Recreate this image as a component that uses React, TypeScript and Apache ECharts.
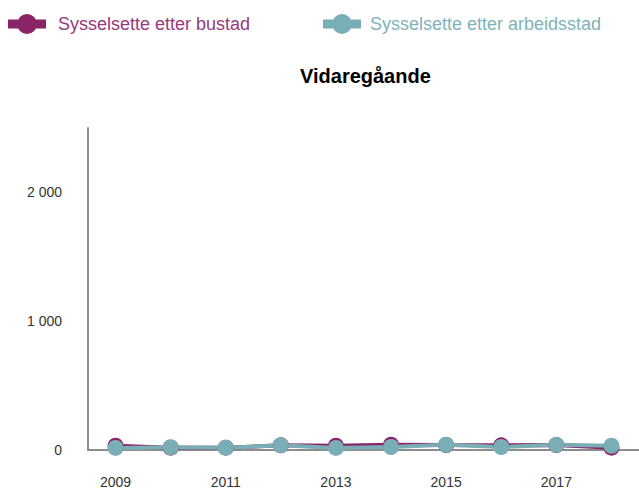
import React, { useEffect, useRef } from "react";
import * as echarts from "echarts";

const years = ["2009", "2010", "2011", "2012", "2013", "2014", "2015", "2016", "2017", "2018"];
const bustad = [33, 18, 18, 36, 33, 41, 38, 36, 38, 18];
const arbeidsstad = [16, 21, 18, 36, 16, 23, 41, 23, 41, 33];
const seriesNames = ["Sysselsette etter bustad", "Sysselsette etter arbeidsstad"];
const titleText = "Vidaregåande";

const PURPLE = "#8a2467";
const TEAL = "#7aaeb6";
const PURPLE_TEXT = "#973a7b";
const TEAL_TEXT = "#80b2b9";
const FONT = "'Liberation Sans', Arial, sans-serif";
const ICON =
  "path://M0,5.5L38,5.5L38,14.5L0,14.5Z M9,10A10,10,0,1,1,29,10A10,10,0,1,1,9,10Z";

export default function App() {
  const ref = useRef<HTMLDivElement>(null);
  useEffect(() => {
    document.body.style.margin = "0";
    const chart = echarts.init(ref.current!, null, { renderer: "svg" });
    const legendBase = {
      top: 14,
      padding: 0,
      itemWidth: 38,
      itemHeight: 20,
      icon: ICON,
      selectedMode: false,
    };
    chart.setOption({
      animation: false,
      title: {
        text: titleText,
        left: 300,
        top: 66,
        padding: 0,
        textStyle: { fontFamily: FONT, fontSize: 20, fontWeight: "bold", color: "#000" },
      },
      legend: [
        {
          ...legendBase,
          left: 8,
          data: [seriesNames[0]],
          textStyle: { fontFamily: FONT, fontSize: 18, color: PURPLE_TEXT, padding: [0, 0, 0, 7] },
        },
        {
          ...legendBase,
          left: 323,
          data: [seriesNames[1]],
          textStyle: { fontFamily: FONT, fontSize: 18, color: TEAL_TEXT, padding: [0, 0, 0, 4] },
        },
      ],
      grid: { left: 88, right: 0, top: 128, bottom: 39, containLabel: false },
      xAxis: {
        type: "category",
        data: years,
        boundaryGap: true,
        axisLine: { lineStyle: { color: "#8c8c8c", width: 2 } },
        axisTick: { show: false },
        axisLabel: {
          interval: 1,
          margin: 25,
          fontFamily: FONT,
          fontSize: 14,
          color: "#333",
        },
      },
      yAxis: {
        type: "value",
        min: 0,
        max: 2500,
        interval: 1000,
        splitLine: { show: false },
        axisTick: { show: false },
        axisLine: { show: true, lineStyle: { color: "#8c8c8c", width: 2 } },
        axisLabel: {
          margin: 26,
          fontFamily: FONT,
          fontSize: 14,
          color: "#333",
          formatter: (v: number) =>
            v % 1000 === 0 ? String(v).replace(/\B(?=(\d{3})+(?!\d))/g, " ") : "",
        },
      },
      series: [
        {
          name: seriesNames[0],
          type: "line",
          data: bustad,
          symbol: "circle",
          symbolSize: 16,
          showAllSymbol: true,
          lineStyle: { color: PURPLE, width: 4 },
          itemStyle: { color: PURPLE },
        },
        {
          name: seriesNames[1],
          type: "line",
          data: arbeidsstad,
          symbol: "circle",
          symbolSize: 16,
          showAllSymbol: true,
          lineStyle: { color: TEAL, width: 4 },
          itemStyle: { color: TEAL },
        },
      ],
    });
    return () => chart.dispose();
  }, []);
  return <div ref={ref} style={{ width: 639, height: 489 }} />;
}
